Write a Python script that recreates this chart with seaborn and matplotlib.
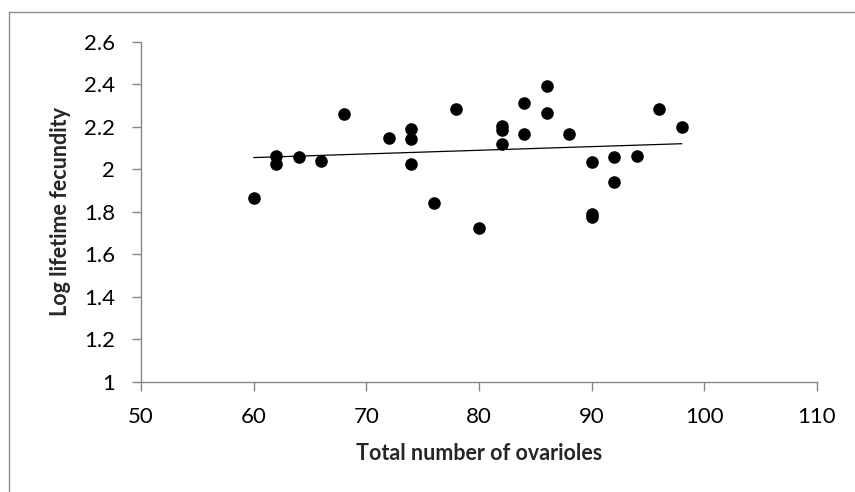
import matplotlib
matplotlib.use("Agg")
import matplotlib.pyplot as plt
import seaborn as sns
import numpy as np
import pandas as pd
from matplotlib.lines import Line2D

ovarioles = [60, 62, 62, 64, 66, 68, 72, 74, 74, 74, 76, 78, 80,
             82, 82, 82, 84, 84, 86, 86, 88, 90, 90, 90, 92, 92, 94, 96, 98]
log_fecundity = [1.866, 2.064, 2.023, 2.059, 2.037, 2.260, 2.145, 2.191, 2.142, 2.024,
                 1.839, 2.282, 1.725, 2.205, 2.184, 2.117, 2.310, 2.167, 2.390, 2.263,
                 2.164, 2.032, 1.787, 1.777, 2.059, 1.940, 2.062, 2.282, 2.197]
x_ticks = [50, 60, 70, 80, 90, 100, 110]
y_ticks = [1, 1.2, 1.4, 1.6, 1.8, 2, 2.2, 2.4, 2.6]
y_tick_labels = ["1", "1.2", "1.4", "1.6", "1.8", "2", "2.2", "2.4", "2.6"]

df = pd.DataFrame({"x": ovarioles, "y": log_fecundity})

sns.set_theme(style="white")
plt.rcParams['font.family'] = ['Lato', 'DejaVu Sans']

fig = plt.figure(figsize=(8.55, 4.92), dpi=100)
ax = fig.add_axes([141/855, 1 - 381.7/492, (817 - 141)/855, (381.7 - 41.7)/492])

sns.regplot(data=df, x="x", y="y", ax=ax, ci=None,
            scatter_kws=dict(s=82, color="black", linewidths=0, alpha=1),
            line_kws=dict(color="black", lw=0.9))

ax.set_xlim(50, 110)
ax.set_ylim(1, 2.6)
ax.set_xticks(x_ticks)
ax.set_xticklabels([str(t) for t in x_ticks])
ax.set_yticks(y_ticks)
ax.set_yticklabels(y_tick_labels)

grey = "#868686"
for s in ["top", "right"]:
    ax.spines[s].set_visible(False)
for s in ["left", "bottom"]:
    ax.spines[s].set_color(grey)
    ax.spines[s].set_linewidth(1.0)
ax.tick_params(axis="both", which="major", direction="out", length=6.5, width=1.0,
               color=grey, labelsize=16, labelcolor="black")
ax.tick_params(axis="x", bottom=True, pad=12)
ax.tick_params(axis="y", left=True, pad=12)

ax.set_xlabel("Total number of ovarioles", fontsize=15.5, fontweight="bold", labelpad=11)
ax.set_ylabel("Log lifetime fecundity", fontsize=15.5, fontweight="bold")
ax.yaxis.set_label_coords((71 - 141) / 676, 0.5)

# outer chart border (left and top visible)
fig.add_artist(Line2D([8.5/855, 8.5/855], [0, 1 - 12.3/492], transform=fig.transFigure,
                      color="#8c8c8c", lw=1.0))
fig.add_artist(Line2D([8.5/855, 1], [1 - 12.3/492, 1 - 12.3/492], transform=fig.transFigure,
                      color="#8c8c8c", lw=1.0))

fig.savefig("out.png", dpi=100)
